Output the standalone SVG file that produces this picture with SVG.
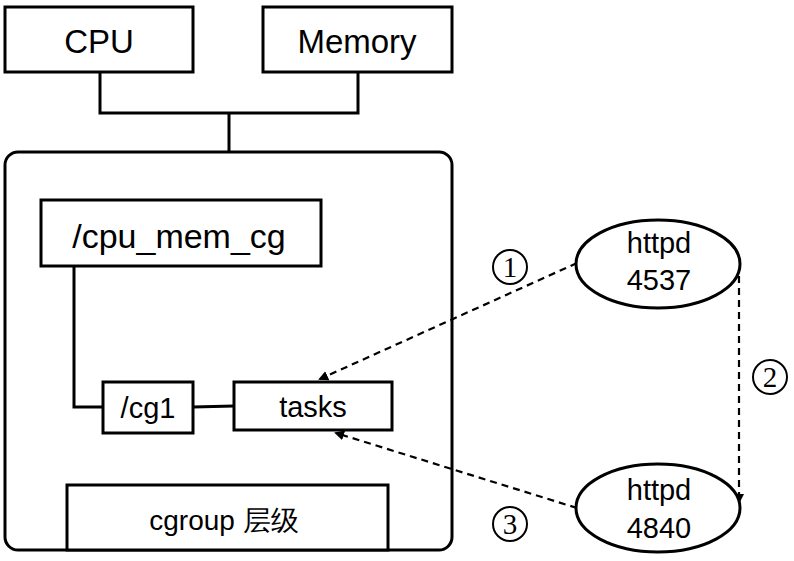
<svg xmlns="http://www.w3.org/2000/svg" width="794" height="561" viewBox="0 0 794 561">
<style>
.box{fill:#fff;stroke:#000;stroke-width:3}
.ln{fill:none;stroke:#000;stroke-width:3}
.dash{fill:none;stroke:#000;stroke-width:2.2;stroke-dasharray:7,5}
.t{font-family:"Liberation Sans",Arial,sans-serif;fill:#000;text-anchor:middle}
.num{font-family:"Liberation Serif","Times New Roman",serif;font-size:29px;fill:#000;text-anchor:middle}
.circ{fill:#fff;stroke:#000;stroke-width:2}
</style>
<defs>
<marker id="ah" markerWidth="10" markerHeight="10" refX="8" refY="5" orient="auto" markerUnits="userSpaceOnUse">
<path d="M0,0 L10,5 L0,10 z" fill="#000"/>
</marker>
</defs>
<g id="hierarchy"><rect class="box" x="5" y="152" width="447" height="398" rx="13"/></g>
<g id="connectors">
<path class="ln" d="M100,72 V113 H358 V72"/>
<path class="ln" d="M229,113 V152"/>
<path class="ln" d="M74,266 V407 H103"/>
<path class="ln" d="M193,407 L234,406"/>
<path class="dash" d="M577,263 L320,379" marker-end="url(#ah)"/>
<path class="dash" d="M577,508 L336,433" marker-end="url(#ah)"/>
<path class="dash" d="M739,276 V502" marker-end="url(#ah)"/>
</g>
<g id="cpu"><rect class="box" x="5" y="7" width="188" height="65"/><text class="t" x="99" y="53" font-size="33">CPU</text></g>
<g id="memory"><rect class="box" x="263" y="7" width="189" height="65"/><text class="t" x="357" y="53" font-size="33">Memory</text></g>
<g id="cpu_mem_cg"><rect class="box" x="41" y="200" width="280" height="66"/><text class="t" x="179" y="248" font-size="34">/cpu_mem_cg</text></g>
<g id="cg1"><rect class="box" x="103" y="382" width="90" height="51"/><text class="t" x="148" y="418" font-size="29">/cg1</text></g>
<g id="tasks"><rect class="box" x="234" y="382" width="158" height="48"/><text class="t" x="313" y="417" font-size="29">tasks</text></g>
<g id="cgroup"><rect class="box" x="67" y="485" width="321" height="65"/><text class="t" x="224" y="530" font-size="28" font-family="'Liberation Sans','Noto Sans CJK SC',sans-serif">cgroup 层级</text></g>
<g id="httpd4537"><ellipse class="box" cx="658" cy="264" rx="82" ry="44"/><text class="t" x="659" y="253" font-size="29">httpd</text><text class="t" x="659" y="290" font-size="29">4537</text></g>
<g id="httpd4840"><ellipse class="box" cx="658" cy="508" rx="82" ry="44"/><text class="t" x="659" y="500" font-size="29">httpd</text><text class="t" x="659" y="538" font-size="29">4840</text></g>
<g id="label1"><circle class="circ" cx="510" cy="267" r="17"/><text class="num" x="510" y="277">1</text></g>
<g id="label2"><circle class="circ" cx="770" cy="377" r="17"/><text class="num" x="770" y="387">2</text></g>
<g id="label3"><circle class="circ" cx="510" cy="524" r="17"/><text class="num" x="510" y="534">3</text></g>
</svg>
